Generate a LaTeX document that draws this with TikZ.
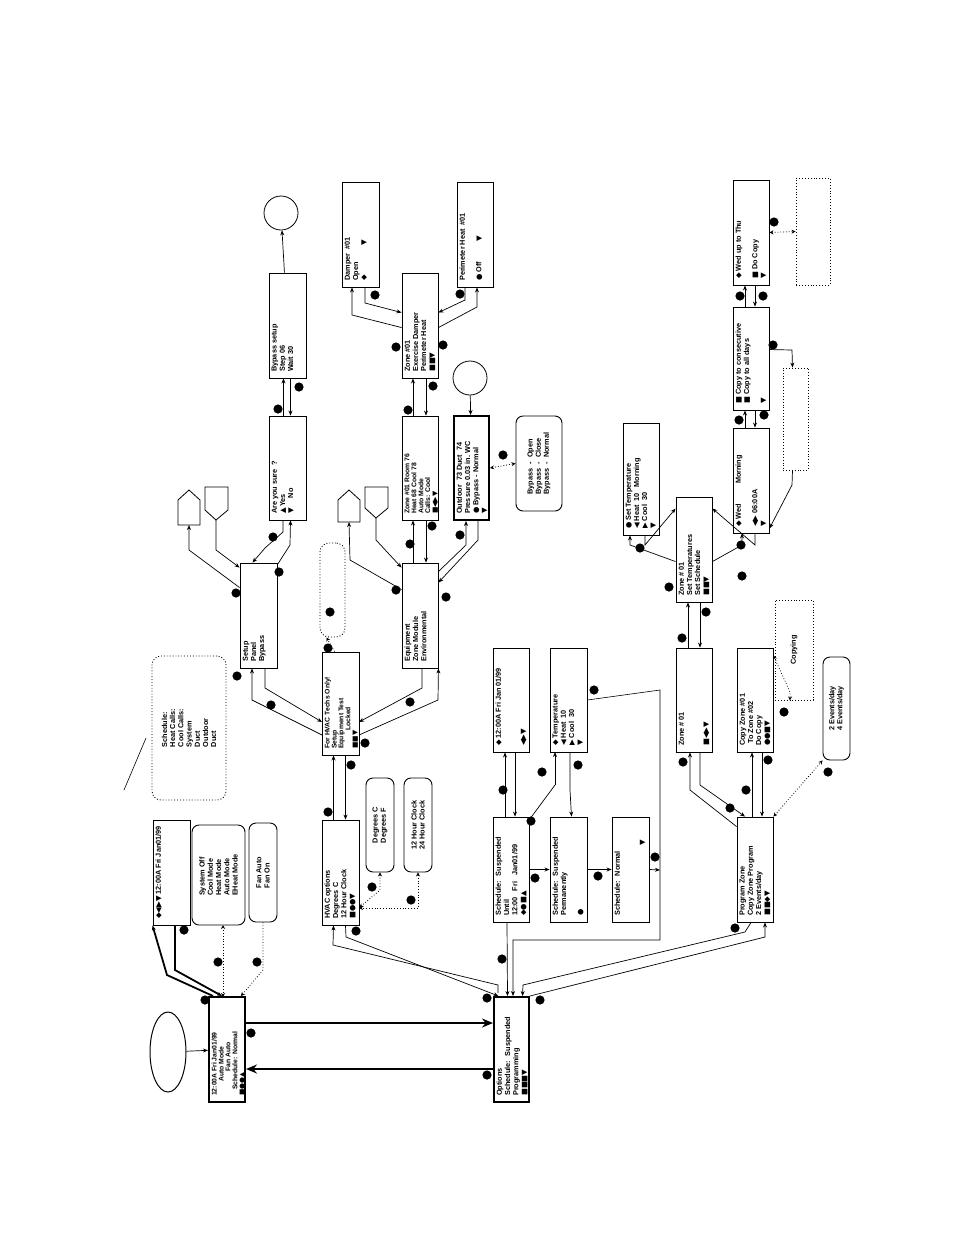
\documentclass[tikz,border=0pt]{standalone}
\usepackage{fontspec}
\setmainfont{Liberation Sans}
\newfontfamily\sym{DejaVu Sans}
\usetikzlibrary{arrows.meta,shapes.geometric}
\tikzset{
 box/.style={draw,line width=0.9pt,inner sep=0pt},
 tbox/.style={draw,line width=2pt,inner sep=0pt},
 rbox/.style={draw,line width=0.9pt,rounded corners=7pt,inner sep=0pt},
 dbox/.style={draw,dotted,line width=0.9pt,inner sep=0pt},
 drbox/.style={draw,dotted,line width=0.9pt,rounded corners=9pt,inner sep=0pt},
 txt/.style={rotate=90,anchor=north west,align=left,inner sep=1pt,font=\fontsize{7.3}{8.2}\selectfont\bfseries},
 ttxt/.style={txt,font=\fontsize{6.8}{6.9}\selectfont\bfseries},
 txtc/.style={rotate=90,anchor=center,align=left,inner sep=1pt,font=\fontsize{7.3}{8.2}\selectfont\bfseries},
 arr/.style={-{Stealth[length=5pt,width=4pt]},line width=0.7pt},
 darr/.style={{Stealth[length=4pt,width=4pt]}-{Stealth[length=4pt,width=4pt]},dotted,line width=0.8pt},
 bigarr/.style={-{Stealth[length=11pt,width=9pt]},line width=2pt},
 larr/.style={-{Stealth[length=5pt,width=4pt]},line width=1.8pt},
}
\newcommand\bx[7][box]{\node[#1,minimum width={(#5-#3)*1pt},minimum height={(#6-#4)*1pt}] (#2) at ({(#3+#5)/2},{(#4+#6)/2}) {};\node[txt] (#2-t) at ({#3+1.5},{#6-5}) {#7};}
\newcommand\bxt[7][box]{\node[#1,minimum width={(#5-#3)*1pt},minimum height={(#6-#4)*1pt}] (#2) at ({(#3+#5)/2},{(#4+#6)/2}) {};\node[ttxt] (#2-t) at ({#3+1.5},{#6-5}) {#7};}
\newcommand\rx[7][rbox]{\node[#1,minimum width={(#5-#3)*1pt},minimum height={(#6-#4)*1pt}] (#2) at ({(#3+#5)/2},{(#4+#6)/2}) {};\node[txtc] (#2-t) at (#2.center) {#7};}
\newcommand\dt[2]{\fill (#1,#2) circle (4.6);}
\begin{document}
\begin{tikzpicture}[x=1pt,y=-1pt]
\useasboundingbox (0,0) rectangle (954,1235);
% ---------- column 1
\bxt[tbox]{main}{209}{997}{245}{1102}{12:00A Fri Jan01/99\\ \hspace*{14pt}Auto Mode\\ \hspace*{24pt}Fan Auto\\ \hspace*{6pt}Schedule: Normal\\ {\sym ■●●▲}}
\node[draw,line width=1pt,ellipse,minimum width=36pt,minimum height=80pt] (start) at (168,1052) {};
\bx{clk}{153}{820}{190}{925}{{\sym ◆◀▶▼}\ 12:00A Fri Jan01/99}
\rx{modes}{192}{825}{245}{925}{System Off\\Cool Mode\\Heat Mode\\Auto Mode\\EHeat Mode}
\rx{fan}{249}{823}{277}{922}{Fan Auto\\Fan On}
\rx[drbox]{sched}{152}{656}{226}{800}{Schedule:\\Heat Calls:\\Cool Calls:\\System\\Duct\\Outdoor\\Duct}
\coordinate (lead) at (124,790);
\draw[line width=0.6pt] (lead) -- (146,738);
% ---------- column 2
\bx{hvac}{322}{820}{359}{925}{HVAC options\\Degrees C\\12 Hour Clock\\{\sym ■●●▼}}
\rx{deg}{366}{778}{394}{872}{Degrees C\\Degrees F}
\rx{hour}{404}{778}{432}{872}{12 Hour Clock\\24 Hour Clock}
\bxt{tech}{322}{652}{359}{755}{For HVAC Techs Only!\\Setup\\Equipment Test\\ \hspace*{18pt}Locked\\{\sym ■■▼}}
\node[drbox,minimum width=25pt,minimum height=94pt] (tdot) at (332.5,590) {};
\bx{setup}{240}{563}{277}{668}{Setup\\Panel\\Bypass}
\bx{sure}{269}{416}{306}{520}{Are you sure \ ?\\{\sym ▲}\,Yes\\{\sym ▼}\hspace*{10pt}No}
\bx{byp}{269}{273}{306}{378}{Bypass setup\\Step 06\\Wait 30}
\node[draw,circle,minimum size=34pt,line width=0.8pt] (c1) at (281,213) {};
\draw[line width=0.8pt] (178,525) -- (178,500) -- (189,490) -- (200,500) -- (200,525) -- cycle;
\coordinate (h1) at (189,525);
\draw[line width=0.8pt] (205,487) -- (228,487) -- (228,510) -- (216,520) -- (205,510) -- cycle;
\coordinate (h2) at (216,520);
\bx{equip}{402}{563}{438}{668}{Equipment\\Zone Module\\Environmental}
\bxt{room}{402}{416}{438}{520}{Zone \#01 Room 76\\Heat 68 Cool 78\\Auto Mode\\Calls: Cool\\{\sym ■◀▶▼}}
\bx[tbox]{outd}{454}{416}{489}{520}{Outdoor \ 73 Duct \ 74\\Pressure 0.03 in. WC\\{\sym ●}\ Bypass - Normal\\{\sym ▼}}
\rx{bpr}{516}{416}{562}{511}{Bypass \ - \ Open\\Bypass \ - \ Close\\Bypass \ - \ Normal}
\node[draw,circle,minimum size=34pt,line width=0.8pt] (c2) at (470,378) {};
\bx{zex}{402}{273}{438}{378}{Zone \#01\\Exercise Damper\\Perimeter Heat\\{\sym ■■▼}}
\bx{damp}{342}{182}{379}{287}{Damper \ \#01\\Open\\{\sym ◆}\hspace*{30pt}{\sym ▼}}
\bx{perim}{457}{182}{493}{287}{Perimeter Heat \ \#01\\ \\{\sym ●}\ Off\hspace*{20pt}{\sym ▼}}
\draw[line width=0.8pt] (338,522) -- (338,500) -- (349,490) -- (360,500) -- (360,522) -- cycle;
\coordinate (h3) at (349,522);
\draw[line width=0.8pt] (365,487) -- (388,487) -- (388,508) -- (376,518) -- (365,508) -- cycle;
\coordinate (h4) at (376,518);
% ---------- column 3
\bx[tbox]{opt}{494}{997}{529}{1102}{Options\\Schedule: \ Suspended\\Programming\\{\sym ■■■▼}}
\bx{until}{493}{817}{529}{922}{Schedule: \ Suspended\\Until\\12:00 \ \ Fri \ \ Jan01/99\\{\sym ◆●■▲}}
\bx{now}{493}{648}{529}{752}{{\sym ◆}\ 12:00A Fri Jan 01/99\\ \\ \\{\sym ◀▶▼}}
\bx{perm}{550}{817}{587}{922}{Schedule: \ Suspended\\Permanently\\ \\{\sym ●}}
\bx{temp}{550}{648}{587}{752}{{\sym ◆}\ Temperature\\{\sym ◀}\ Heat \ 10\\{\sym ▶}\ Cool \ 30\\{\sym ▼}}
\bx{norm}{612}{817}{649}{922}{Schedule: \ Normal\\ \\ \\ \hspace*{70pt}{\sym ▼}}
\bx{prog}{737}{817}{773}{922}{Program Zone\\Copy Zone Program\\2 Events/day\\{\sym ■■◆▼}}
\bx{z1}{676}{648}{712}{752}{Zone \# 01\\ \\ \\{\sym ■◀▶▼}}
\bx{cz}{737}{648}{773}{752}{Copy Zone \#01\\ \ To Zone \#02\\ Do Copy\\{\sym ●●■▼}}
\node[dbox,minimum width=38pt,minimum height=100pt] (cpy) at (794,650) {};
\node[txtc] at (cpy.center) {Copying};
\rx{ev}{823}{657}{850}{760}{2 Events/day\\4 Events/day}
\bx{zs}{676}{497}{712}{602}{Zone \# 01\\Set Temperatures\\Set Schedule\\{\sym ■■▼}}
\bx{st}{623}{423}{659}{535}{{\sym ●}\ Set Temperature\\{\sym ◀}\ Heat \ 10 \ \ Morning\\{\sym ▶}\ Cool \ 30\\{\sym ▼}}
\bx{wed}{733}{428}{769}{533}{{\sym ◆}\ Wed\hspace*{20pt}Morning\\ \\{\sym ◀▶}\ 06:00A\\{\sym ▼}}
\bx{cons}{733}{307}{769}{410}{{\sym ■}\ Copy to consecutive\\{\sym ■}\ Copy to all days\\ \\{\sym ▼}}
\bx{thu}{733}{180}{769}{285}{{\sym ◆}\ Wed up to Thu\\ \\{\sym ■}\ Do Copy\\{\sym ▼}}
\node[dbox,minimum width=34pt,minimum height=107pt] (dt1) at (813,231.5) {};
\node[dbox,minimum width=25pt,minimum height=102pt] (dt2) at (795.5,419) {};
% ---------- connectors column 1
\draw[arr] (start) -- (main);
\draw[bigarr] ([yshift=-27pt]main.north east) -- ([yshift=-27pt]opt.north west);
\dt{251}{1033}
\draw[bigarr] ([yshift=-73pt]opt.north west) -- ([yshift=-73pt]main.north east);
\dt{487}{1075}
\draw[larr] ([xshift=5pt]main.north west) -- (167,975) -- ([xshift=-19pt]clk.south);
\draw[larr] (175,925) -- (175,970) -- ([xshift=14pt]main.north west);
\dt{184}{930} \dt{205}{1000}
\draw[darr] (223,925) -- (223,997);
\dt{218}{962}
\draw[-{Stealth[length=4pt,width=4pt]},dotted,line width=0.8pt] (fan.south) -- (263,970) -- ([xshift=-5pt]main.north east);
\dt{257}{962}
% column 2
\draw[arr] (498,993) -- (498,985) -- (333,945) -- ([xshift=-7pt]hvac.south);
\draw[arr] ([xshift=5pt]hvac.south) -- (346,937) -- ([xshift=-13pt]opt.north);
\dt{356}{931} \dt{487}{998}
\draw[darr] (deg.south) -- (380,890) -- ([yshift=18pt]hvac.south east);
\dt{372}{887}
\draw[darr] (hour.south) -- (418,908) -- (359,908);
\dt{411}{900}
\draw[arr] ([xshift=-7pt]hvac.north) -- ([xshift=-7pt]tech.south);
\draw[arr] ([xshift=5pt]tech.south) -- ([xshift=5pt]hvac.north);
\dt{328}{812} \dt{351}{765}
\draw[-{Stealth[length=4pt,width=4pt]},dotted,line width=0.8pt] ([xshift=-6pt]tech.north) -- ([xshift=-6pt]tdot.south);
\dt{330}{612} \dt{328}{648}
\draw[arr] (322,735) -- (252,700) -- ([xshift=-6.5pt]setup.south);
\draw[arr] (265,668) -- (265,688) -- (322,722);
\dt{237}{676} \dt{271}{705}
\draw[arr] (359,735) -- (438,700) -- ([xshift=0pt]equip.south east);
\draw[arr] (422,668) -- (422,688) -- (359,722);
\dt{410}{702} \dt{365}{743}
\draw[arr] ([yshift=-2pt]setup.north east) -- (290,545) -- ([xshift=3pt]sure.south);
\draw[arr] (283,520) -- (283,532) -- (265,548) -- ([xshift=-6pt]setup.north);
\dt{279}{572} \dt{273}{537}
\draw[arr] ([yshift=-25pt]setup.north west) -- (189,550) -- (h1);
\draw[arr] (h2) -- (216,550) -- ([yshift=-5pt]setup.north west);
\dt{236}{593}
\draw[arr] ([xshift=-4pt]sure.north) -- ([xshift=-4pt]byp.south);
\draw[arr] ([xshift=3pt]byp.south) -- ([xshift=3pt]sure.north);
\dt{278}{409} \dt{299}{387}
\draw[arr] (byp) -- (c1);
\draw[arr] ([xshift=-7pt]equip.north) -- ([xshift=-7pt]room.south);
\draw[arr] ([xshift=6pt]room.south) -- ([xshift=6pt]equip.north);
\dt{410}{544} \dt{432}{526}
\draw[arr] ([yshift=-9pt]equip.north east) -- (466,545) -- ([xshift=-5.5pt]outd.south);
\draw[arr] ([xshift=6.5pt]outd.south) -- (478,540) -- ([yshift=-20pt]equip.north east);
\dt{460}{535} \dt{446}{597}
\draw[arr] ([yshift=-27pt]equip.north west) -- (350,560) -- (h3);
\draw[arr] (h4) -- (376,540) -- ([yshift=-5pt]equip.north west);
\dt{396}{590}
\draw[arr] ([xshift=-7pt]room.north) -- ([xshift=-7pt]zex.south);
\draw[arr] ([xshift=6pt]zex.south) -- ([xshift=6pt]room.north);
\dt{408}{410} \dt{433}{386}
\draw[arr] ([yshift=-55pt]zex.north west) -- (352,315) -- ([xshift=-8.5pt]damp.south);
\draw[arr] ([xshift=4.5pt]damp.south) -- (365,303) -- ([yshift=-40pt]zex.north west);
\dt{375}{295} \dt{396}{347}
\draw[arr] ([yshift=-55pt]zex.north east) -- (477,307) -- ([xshift=2pt]perim.south);
\draw[arr] ([xshift=-10pt]perim.south) -- (465,300) -- ([yshift=-40pt]zex.north east);
\dt{460}{294} \dt{443}{345}
\draw[arr] (c2) -- (outd);
\draw[darr] (outd.east) -- (bpr.west);
\dt{503}{455}
% column 3
\draw[arr] ([xshift=-4pt]until.south) -- ([xshift=-4pt]opt.north);
\dt{502}{959}
\draw[arr] ([xshift=-6pt]until.north) -- ([xshift=-6pt]now.south);
\draw[arr] ([xshift=4pt]now.south) -- ([xshift=4pt]until.north);
\dt{503}{790} \dt{531}{821}
\draw[arr] (until.east) -- (perm.west);
\dt{535}{878}
\draw[line width=0.7pt] ([yshift=-3pt]until.north east) -- (555,785);
\draw[arr] (555,785) -- (555,752);
\draw[arr] (570,752) -- (570,790) -- ([xshift=3pt]perm.north);
\dt{542}{772} \dt{578}{765}
\draw[arr] (perm.east) -- (norm.west);
\dt{598}{876}
\draw[arr] (norm.east) -- (660,870);
\draw[arr, line width=0.6pt] (temp.east) -- (660,690) -- (660,940) -- (513,940) -- ([xshift=1.5pt]opt.north);
\dt{594}{690} \dt{655}{857}
\draw[arr] ([xshift=-4pt]prog.south) -- (745,932) -- (523,985) -- ([xshift=11pt]opt.north);
\draw[arr] (opt.north east) -- (765,937) -- ([xshift=10pt]prog.south);
\dt{540}{1000} \dt{735}{928}
\draw[arr] ([yshift=-10pt]prog.north west) -- (690,790) -- ([xshift=-4pt]z1.south);
\draw[arr] (700,752) -- (700,785) -- ([xshift=-10pt]prog.north);
\dt{683}{762} \dt{730}{808}
\draw[arr] ([xshift=-3pt]prog.north) -- ([xshift=-3pt]cz.south);
\draw[arr] ([xshift=7pt]cz.south) -- ([xshift=7pt]prog.north);
\dt{746}{790} \dt{768}{760}
\draw[darr] (prog.north east) -- (ev.south west);
\dt{828}{772}
\draw[darr] ([yshift=-8pt]cz.north east) -- (790,692) -- ([xshift=-4pt]cpy.south);
\dt{784}{712}
\draw[arr] ([xshift=-6pt]z1.north) -- ([xshift=-6pt]zs.south);
\draw[arr] ([xshift=6pt]zs.south) -- ([xshift=6pt]z1.north);
\dt{682}{638} \dt{706}{612}
\draw[arr] ([yshift=-65pt]zs.north west) -- (630,545) -- ([xshift=-11pt]st.south);
\draw[arr] (645,535) -- (645,545) -- ([yshift=-12pt]zs.north west);
\dt{640}{548} \dt{669}{587}
\draw[arr] ([yshift=-65pt]zs.north east) -- (742,545) -- ([xshift=-9pt]wed.south);
\draw[arr] (755,533) -- (755,545) -- ([yshift=-12pt]zs.north east);
\dt{741}{545} \dt{742}{576}
\draw[arr] ([xshift=-6pt]wed.north) -- ([xshift=-6pt]cons.south);
\draw[arr] ([xshift=4pt]cons.south) -- ([xshift=4pt]wed.north);
\dt{739}{420} \dt{764}{415}
\draw[arr] ([xshift=-6pt]cons.north) -- ([xshift=-6pt]thu.south);
\draw[arr] ([xshift=4pt]thu.south) -- ([xshift=4pt]cons.north);
\dt{740}{296} \dt{763}{296}
\draw[darr] (thu.east) -- (dt1.west);
\dt{774}{222}
\draw[arr] ([yshift=-43pt]cons.north east) -- (792,350) -- ([xshift=-3pt]dt2.north);
\draw[arr] ([xshift=-3pt]dt2.south) -- (792,485) -- ([yshift=5pt]wed.south east);
\dt{773}{345}
\end{tikzpicture}
\end{document}
